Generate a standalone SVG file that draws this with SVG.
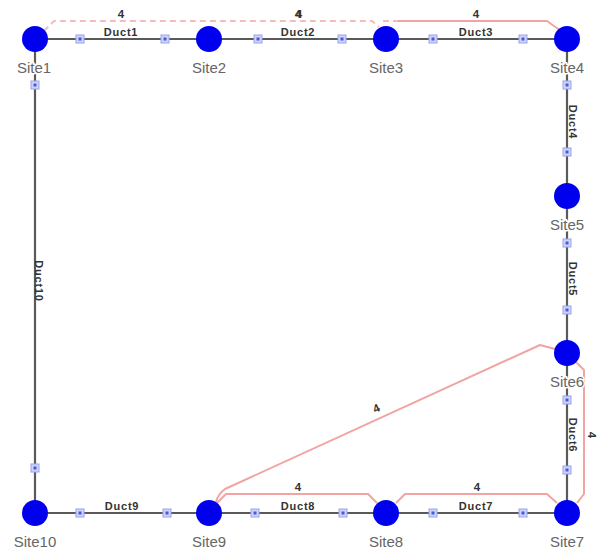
<svg xmlns="http://www.w3.org/2000/svg" width="599" height="550" viewBox="0 0 599 550">
<style>
.duct{stroke:#5a5a5a;stroke-width:2.2;fill:none}
.route{stroke:#f2a4a4;stroke-width:2;fill:none;stroke-linejoin:round}
.dash{stroke:#f5bcbc;stroke-dasharray:6 4}
.site{fill:#0000ee}
.lbl{font-family:"Liberation Sans",Arial,sans-serif;font-size:15px;fill:#666;text-anchor:middle;stroke:#fff;stroke-width:3;paint-order:stroke}
.dl{font-family:"Liberation Sans",Arial,sans-serif;font-size:11px;font-weight:bold;fill:#333;text-anchor:middle;letter-spacing:0.8px}
.rl{font-family:"Liberation Sans",Arial,sans-serif;font-size:11.5px;font-weight:bold;fill:#333;text-anchor:middle}
</style>
<defs>
<g id="sq"><rect x="-4" y="-4" width="8" height="8" fill="#cdd4fa" stroke="#9aa4ea" stroke-width="1"/><rect x="-1.5" y="-1.5" width="3" height="3" fill="#4a5ad8"/></g>
</defs>
<rect width="599" height="550" fill="#fff"/>
<g id="connectors">
<line class="duct" x1="35" y1="39" x2="209" y2="39"/>
<line class="duct" x1="209" y1="39" x2="386" y2="39"/>
<line class="duct" x1="386" y1="39" x2="567" y2="39"/>
<line class="duct" x1="567" y1="39" x2="567" y2="196"/>
<line class="duct" x1="567" y1="196" x2="567" y2="353"/>
<line class="duct" x1="567" y1="353" x2="567" y2="513"/>
<line class="duct" x1="567" y1="513" x2="386" y2="513"/>
<line class="duct" x1="386" y1="513" x2="209" y2="513"/>
<line class="duct" x1="209" y1="513" x2="35" y2="513"/>
<line class="duct" x1="35" y1="513" x2="35" y2="39"/>
<path class="route dash" d="M44,31 L54,21 L372,21 L379,27"/>
<path class="route dash" d="M383,21 L398,21"/>
<path class="route" d="M398,21 L547,21 L561,31"/>
<path class="route" d="M576,362 L584,370 L584,494 L577,503"/>
<path class="route" d="M555,349 L540,345 L225,489 Q218,494 216,502"/>
<path class="route" d="M217,503 L226,494 L368,494 L377,503"/>
<path class="route" d="M396,503 L405,494 L547,494 L557,503"/>
<use href="#sq" x="80" y="39"/><use href="#sq" x="165" y="39"/>
<use href="#sq" x="258" y="39"/><use href="#sq" x="342" y="39"/>
<use href="#sq" x="433" y="39"/><use href="#sq" x="523" y="39"/>
<use href="#sq" x="567" y="85"/><use href="#sq" x="567" y="152"/>
<use href="#sq" x="567" y="243"/><use href="#sq" x="567" y="310"/>
<use href="#sq" x="567" y="400"/><use href="#sq" x="567" y="470"/>
<use href="#sq" x="523" y="513"/><use href="#sq" x="433" y="513"/>
<use href="#sq" x="343" y="513"/><use href="#sq" x="255" y="513"/>
<use href="#sq" x="167" y="513"/><use href="#sq" x="80" y="513"/>
<use href="#sq" x="35" y="468"/><use href="#sq" x="35" y="85"/>
<text class="dl" x="121" y="36">Duct1</text>
<text class="dl" x="298" y="36">Duct2</text>
<text class="dl" x="476" y="36">Duct3</text>
<text class="dl" transform="translate(569,122) rotate(90)">Duct4</text>
<text class="dl" transform="translate(569,279) rotate(90)">Duct5</text>
<text class="dl" transform="translate(569,435) rotate(90)">Duct6</text>
<text class="dl" x="476" y="510">Duct7</text>
<text class="dl" x="298" y="510">Duct8</text>
<text class="dl" x="122" y="510">Duct9</text>
<text class="dl" transform="translate(35,281) rotate(90)">Duct10</text>
<text class="rl" x="121" y="18">4</text>
<text class="rl" x="298" y="18">4</text>
<text class="rl" x="299" y="18">4</text>
<text class="rl" x="476" y="18">4</text>
<text class="rl" transform="translate(588,435) rotate(90)">4</text>
<text class="rl" transform="translate(378,412) rotate(-24)">4</text>
<text class="rl" x="298" y="491">4</text>
<text class="rl" x="477" y="491">4</text>
</g>
<g id="site1"><circle class="site" cx="35" cy="39" r="13"/><text class="lbl" x="34" y="73">Site1</text></g>
<g id="site2"><circle class="site" cx="209" cy="39" r="13"/><text class="lbl" x="209" y="73">Site2</text></g>
<g id="site3"><circle class="site" cx="386" cy="39" r="13"/><text class="lbl" x="386" y="73">Site3</text></g>
<g id="site4"><circle class="site" cx="567" cy="39" r="13"/><text class="lbl" x="567" y="73">Site4</text></g>
<g id="site5"><circle class="site" cx="567" cy="196" r="13"/><text class="lbl" x="567" y="230">Site5</text></g>
<g id="site6"><circle class="site" cx="567" cy="353" r="13"/><text class="lbl" x="567" y="387">Site6</text></g>
<g id="site7"><circle class="site" cx="567" cy="513" r="13"/><text class="lbl" x="567" y="547">Site7</text></g>
<g id="site8"><circle class="site" cx="386" cy="513" r="13"/><text class="lbl" x="386" y="547">Site8</text></g>
<g id="site9"><circle class="site" cx="209" cy="513" r="13"/><text class="lbl" x="209" y="547">Site9</text></g>
<g id="site10"><circle class="site" cx="35" cy="513" r="13"/><text class="lbl" x="35" y="547">Site10</text></g>
</svg>
